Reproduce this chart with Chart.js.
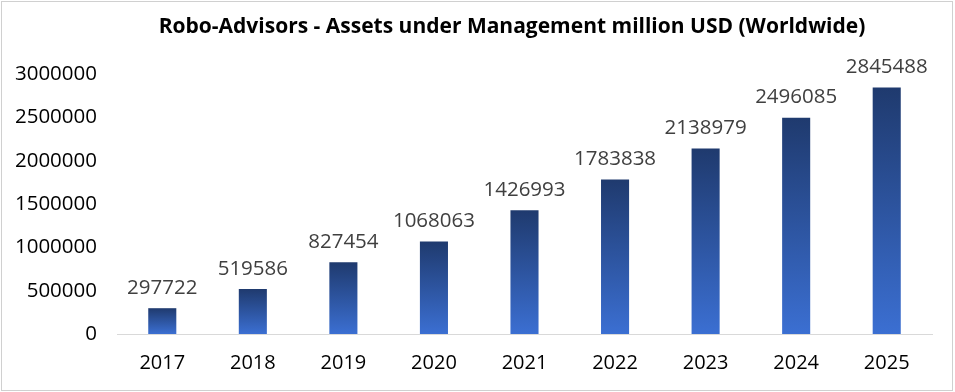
<!DOCTYPE html>
<html>
<head>
<meta charset="utf-8">
<script src="https://cdn.jsdelivr.net/npm/chart.js@4"></script>
<style>
  body { margin: 0; background: #fff; }
  #wrap { width: 955px; height: 392px; }
</style>
</head>
<body>
<div id="wrap"><canvas id="chart" width="955" height="392"></canvas></div>
<script>
const years = ["2017", "2018", "2019", "2020", "2021", "2022", "2023", "2024", "2025"];
const assets = [297722, 519586, 827454, 1068063, 1426993, 1783838, 2138979, 2496085, 2845488];
const chartTitle = "Robo-Advisors - Assets under Management million USD (Worldwide)";

const FONT = "'Open Sans', 'Liberation Sans', sans-serif";

function barGradient(ctx) {
    const chart = ctx.chart;
    const area = chart.chartArea;
    if (!area || !chart.scales.y) return "#2f5597";
    const top = chart.scales.y.getPixelForValue(ctx.raw);
    const g = chart.ctx.createLinearGradient(0, top, 0, area.bottom);
    g.addColorStop(0, "#1f3a6e");
    g.addColorStop(1, "#3b6fd2");
    return g;
}

const extras = {
    id: "extras",
    afterDraw(chart) {
        const c = chart.ctx;
        c.save();
        // frame
        c.strokeStyle = "#d0d0d0";
        c.lineWidth = 1;
        c.strokeRect(1.5, 1.5, 951, 389);
        // title
        c.fillStyle = "#000";
        c.font = "bold 21px " + FONT;
        c.textAlign = "center";
        c.textBaseline = "middle";
        c.fillText(chartTitle, 512, 27);
        // value labels
        c.fillStyle = "#404040";
        c.font = "20.5px " + FONT;
        c.textBaseline = "bottom";
        const meta = chart.getDatasetMeta(0);
        meta.data.forEach((bar, i) => {
            c.fillText(String(assets[i]), bar.x, bar.y - 10);
        });
        c.restore();
    }
};

new Chart(document.getElementById("chart"), {
    type: "bar",
    data: {
        labels: years,
        datasets: [
            {
                data: assets,
                backgroundColor: barGradient,
                barPercentage: 0.31,
                categoryPercentage: 1
            }
        ]
    },
    options: {
        responsive: false,
        animation: false,
        layout: { padding: { top: 74, right: 23, left: 0, bottom: 0 } },
        plugins: {
            legend: { display: false },
            tooltip: { enabled: false }
        },
        scales: {
            x: {
                grid: { display: false, drawTicks: false },
                border: { color: "#d9d9d9", width: 1 },
                ticks: { color: "#000", font: { family: FONT, size: 20 }, padding: 17 },
                afterFit: s => { s.height = 58; }
            },
            y: {
                min: 0,
                max: 3000000,
                grid: { display: false, drawTicks: false },
                border: { display: false },
                ticks: {
                    stepSize: 500000,
                    color: "#000",
                    font: { family: FONT, size: 20.5 },
                    padding: 20,
                    callback: v => String(v)
                },
                afterFit: s => { s.width = 117; }
            }
        }
    },
    plugins: [extras]
});
</script>
</body>
</html>
